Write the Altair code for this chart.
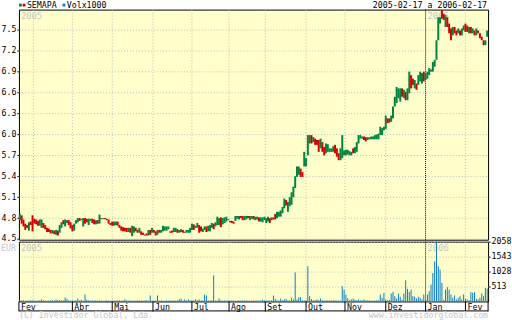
import altair as alt
import pandas as pd

# ---------------- data ----------------
# daily candles 2005-02-17 .. 2006-02-17 (trading-day index), price in EUR
opens = (
    # Feb
    [4.77, 4.84, 4.78, 4.72, 4.70, 4.62, 4.75, 4.84]
    # Mar
    + [4.79, 4.78, 4.76, 4.69, 4.66, 4.73, 4.70, 4.66, 4.65, 4.63, 4.58, 4.62, 4.56, 4.62, 4.59, 4.66, 4.77, 4.68, 4.73, 4.77, 4.74]
    # Abr
    + [4.70, 4.62, 4.72, 4.74, 4.80, 4.77, 4.68, 4.80, 4.79, 4.70, 4.76, 4.79, 4.78, 4.71, 4.77, 4.72, 4.80, 4.785, 4.80, 4.79, 4.78, 4.73]
    # Mai
    + [4.75, 4.69, 4.70, 4.75, 4.70, 4.68, 4.67, 4.66, 4.66, 4.60, 4.66, 4.54, 4.59, 4.66, 4.63, 4.59, 4.61, 4.59, 4.565, 4.58, 4.55, 4.63, 4.59]
    # Jun
    + [4.63, 4.61, 4.56, 4.63, 4.59, 4.61, 4.62, 4.62, 4.64, 4.61, 4.62, 4.60, 4.60, 4.64, 4.59, 4.60, 4.63, 4.605, 4.59, 4.59, 4.59]
    # Jul
    + [4.63, 4.71, 4.66, 4.66, 4.70, 4.68, 4.60, 4.63, 4.68, 4.61, 4.61, 4.66, 4.72, 4.68, 4.70, 4.70, 4.81, 4.71, 4.73, 4.75, 4.77]
    # Ago
    + [4.76, 4.76, 4.75, 4.76, 4.79, 4.78, 4.83, 4.83, 4.77, 4.78, 4.83, 4.77, 4.79, 4.83, 4.77, 4.78, 4.81, 4.75, 4.74, 4.77]
    # Set
    + [4.73, 4.75, 4.80, 4.77, 4.81, 4.86, 4.80, 4.82, 4.82, 4.87, 4.94, 5.06, 4.89, 4.97, 4.99, 5.10, 5.23, 5.39, 5.42, 5.51, 5.46, 5.54]
    # Out
    + [5.54, 5.70, 5.87, 5.99, 5.89, 5.94, 5.92, 5.92, 5.80, 5.89, 5.82, 5.73, 5.75, 5.75, 5.75, 5.75, 5.85, 5.80, 5.73, 5.63, 5.66, 5.70]
    # Nov
    + [5.70, 5.71, 5.70, 5.70, 5.80, 5.73, 5.75, 5.87, 5.94, 5.94, 5.97, 5.96, 5.92, 5.93, 5.93, 5.93, 5.93, 5.93, 5.93, 5.99, 5.99, 6.06]
    # Dez
    + [6.08, 6.23, 6.23, 6.18, 6.23, 6.40, 6.45, 6.52, 6.47, 6.66, 6.52, 6.61, 6.49, 6.59, 6.85, 6.80, 6.66, 6.73, 6.71, 6.76, 6.73, 6.90]
    # Jan
    + [6.78, 6.80, 6.85, 6.90, 6.90, 6.97, 7.07, 7.35, 7.59, 7.78, 7.73, 7.54, 7.68, 7.59, 7.52, 7.42, 7.54, 7.49, 7.45, 7.49, 7.42, 7.49]
    # Fev
    + [7.59, 7.56, 7.45, 7.54, 7.45, 7.49, 7.42, 7.49, 7.45, 7.40, 7.35, 7.28, 7.40]
)
closes = (
    [4.86, 4.72, 4.68, 4.63, 4.66, 4.74, 4.70, 4.61]
    + [4.72, 4.71, 4.69, 4.78, 4.78, 4.66, 4.64, 4.60, 4.60, 4.58, 4.63, 4.57, 4.63, 4.55, 4.70, 4.74, 4.71, 4.78, 4.77, 4.70, 4.65]
    + [4.61, 4.72, 4.77, 4.80, 4.76, 4.79, 4.80, 4.72, 4.74, 4.79, 4.79, 4.73, 4.71, 4.77, 4.72, 4.85, 4.785, 4.80, 4.785, 4.77, 4.72, 4.70]
    + [4.69, 4.75, 4.75, 4.69, 4.66, 4.62, 4.61, 4.61, 4.60, 4.66, 4.59, 4.69, 4.68, 4.61, 4.59, 4.66, 4.56, 4.56, 4.55, 4.55, 4.63, 4.56, 4.66]
    + [4.59, 4.55, 4.63, 4.59, 4.63, 4.69, 4.68, 4.68, 4.68, 4.59, 4.59, 4.66, 4.66, 4.59, 4.63, 4.64, 4.59, 4.59, 4.63, 4.63, 4.66]
    + [4.72, 4.63, 4.69, 4.73, 4.59, 4.61, 4.65, 4.68, 4.60, 4.69, 4.70, 4.73, 4.64, 4.74, 4.82, 4.80, 4.67, 4.80, 4.81, 4.82, 4.785]
    + [4.74, 4.73, 4.72, 4.83, 4.83, 4.83, 4.80, 4.77, 4.83, 4.83, 4.80, 4.83, 4.83, 4.78, 4.82, 4.82, 4.75, 4.81, 4.81, 4.82]
    + [4.80, 4.82, 4.73, 4.81, 4.78, 4.78, 4.89, 4.89, 4.91, 4.96, 5.08, 4.98, 5.03, 5.10, 5.17, 5.25, 5.40, 5.54, 5.54, 5.39, 5.39, 5.75]
    + [5.66, 5.99, 5.99, 5.87, 5.96, 5.85, 5.85, 5.75, 5.94, 5.75, 5.70, 5.87, 5.86, 5.80, 5.80, 5.83, 5.73, 5.68, 5.63, 5.80, 5.99, 5.77]
    + [5.78, 5.78, 5.76, 5.75, 5.73, 5.82, 5.89, 5.99, 5.99, 5.97, 5.92, 5.90, 5.96, 5.96, 5.97, 5.97, 5.99, 6.00, 6.01, 6.11, 6.09, 6.11]
    + [6.27, 6.16, 6.17, 6.27, 6.40, 6.54, 6.68, 6.66, 6.66, 6.54, 6.64, 6.49, 6.66, 6.90, 6.66, 6.71, 6.78, 6.64, 6.85, 6.90, 6.88, 6.76]
    + [6.88, 6.90, 6.95, 6.93, 7.04, 7.07, 7.35, 7.68, 7.68, 7.66, 7.64, 7.71, 7.54, 7.45, 7.35, 7.54, 7.45, 7.42, 7.52, 7.42, 7.52, 7.56]
    + [7.47, 7.47, 7.54, 7.45, 7.52, 7.42, 7.52, 7.45, 7.38, 7.35, 7.28, 7.35, 7.49]
)
# volume in thousands
volumes = (
    [45, 30, 40, 25, 35, 30, 40, 35]
    + [30, 25, 35, 40, 68, 45, 30, 25, 30, 35, 40, 30, 68, 40, 50, 30, 35, 137, 90, 40, 30]
    + [35, 30, 40, 100, 35, 60, 30, 240, 60, 40, 30, 35, 30, 40, 30, 35, 30, 25, 30, 35, 30, 25]
    + [30, 35, 30, 35, 40, 30, 35, 70, 40, 30, 35, 30, 25, 30, 40, 30, 35, 30, 35, 40, 30, 205, 30]
    + [30, 35, 205, 30, 35, 30, 25, 40, 30, 35, 30, 35, 30, 40, 70, 100, 30, 70, 35, 70, 40]
    + [40, 35, 70, 40, 70, 35, 40, 240, 205, 30, 35, 40, 900, 30, 35, 100, 40, 30, 35, 30, 40]
    + [30, 35, 30, 25, 30, 35, 30, 40, 30, 35, 30, 25, 30, 35, 30, 40, 30, 35, 60, 40]
    + [40, 30, 35, 40, 205, 90, 40, 35, 100, 40, 70, 90, 40, 35, 125, 70, 1000, 70, 148, 148, 40, 30]
    + [40, 1210, 182, 80, 40, 40, 70, 40, 100, 40, 30, 40, 30, 35, 30, 40, 35, 30, 35, 30, 525, 410]
    + [240, 110, 40, 70, 100, 60, 40, 70, 40, 40, 70, 40, 35, 40, 30, 35, 30, 40, 35, 240, 125, 296]
    + [70, 40, 60, 274, 330, 182, 100, 274, 160, 60, 274, 730, 433, 330, 410, 182, 160, 100, 160, 125, 70, 240]
    + [40, 240, 353, 581, 980, 1380, 2058, 1210, 1095, 640, 60, 410, 490, 410, 240, 125, 205, 68, 125, 182, 68, 240]
    + [90, 68, 40, 320, 300, 320, 90, 68, 125, 274, 182, 467, 445]
)
N = len(opens)

price_ticks = [4.5, 4.8, 5.1, 5.4, 5.7, 6.0, 6.3, 6.6, 6.9, 7.2, 7.5]
vol_ticks = [513, 1028, 1543, 2058]
# month grid positions (trading-day index), Jan (year change) drawn apart
grid_months = [7.5, 29, 51, 73.5, 95, 115.5, 135.5, 158, 179.5, 202, 246]
year_change = [224]
label_pos = [-0.5, 29, 51, 73.5, 95, 115.5, 135.5, 158, 179.5, 202, 224, 246, 258.5]
label_txt = ["Fev", "Abr", "Mai", "Jun", "Jul", "Ago", "Set", "Out", "Nov", "Dez", "Jan", "Fev", ""]
years = ["2005", "2006"]
year_pos = [-0.5, 224]

GREEN = "#00853e"
RED = "#d40000"
BLUE = "#0a7cc8"
GRID = "#bcbcbc"
WM = "#c6c6c6"
FONT = "DejaVu Sans Mono"
FS = 8.3

df = pd.DataFrame({"idx": list(range(N)), "open": opens, "close": closes, "vol": volumes})
df["dir"] = ["up" if c >= o else "down" for o, c in zip(opens, closes)]
grid_df = pd.DataFrame({"idx": grid_months})
year_df = pd.DataFrame({"idx": year_change})
wm_df = pd.DataFrame({"idx": year_pos, "label": years})
lab_df = pd.DataFrame({"idx": label_pos, "label": label_txt})
one = alt.Data(values=[{}])

xs = alt.Scale(domain=[-0.5, N - 0.5], nice=False, zero=False)
X_noaxis = alt.X("idx:Q", scale=xs, axis=None)


def grid_layer():
    return alt.Chart(grid_df).mark_rule(color=GRID, strokeDash=[1, 2], strokeWidth=1).encode(x=X_noaxis)


def year_layer():
    return alt.Chart(year_df).mark_rule(color="black", strokeDash=[1, 1], strokeWidth=1).encode(x=X_noaxis)


def wm_layer():
    return alt.Chart(wm_df).mark_text(font=FONT, fontSize=FS + 0.5, color=WM, align="left", baseline="top", dx=2).encode(
        x=X_noaxis, y=alt.value(2), text="label:N")


def txt(s, x, y, align="left", color="black", baseline="alphabetic"):
    return alt.Chart(one).mark_text(text=s, font=FONT, fontSize=FS, color=color, align=align, baseline=baseline).encode(
        x=alt.value(x), y=alt.value(y))


def sq(x, y, color):
    return alt.Chart(one).mark_square(size=8, color=color, opacity=1).encode(x=alt.value(x), y=alt.value(y))


candles = alt.Chart(df).mark_rule(strokeWidth=2).encode(
    x=X_noaxis,
    y=alt.Y("open:Q", scale=alt.Scale(domain=[4.49, 7.79], nice=False, zero=False),
            axis=alt.Axis(values=price_ticks, format=".1f", grid=True, gridColor=GRID, gridDash=[1, 2],
                          tickSize=2, labelPadding=1, title=None)),
    y2="close:Q",
    color=alt.Color("dir:N", scale=alt.Scale(domain=["up", "down"], range=[GREEN, RED]), legend=None),
)

price = alt.layer(
    grid_layer(), year_layer(), wm_layer(), candles,
    sq(1.5, -4.5, GREEN), sq(5.2, -4.5, RED), txt("SEMAPA", 8, -1.5),
    sq(45.2, -4.5, BLUE), txt("Volx1000", 48, -1.5),
    txt("2005-02-17 a 2006-02-17", 470, -1.5, align="right"),
).properties(width=471, height=231)

vbars = alt.Chart(df).mark_rule(strokeWidth=1, color=BLUE).encode(
    x=X_noaxis,
    y=alt.Y("vol:Q", scale=alt.Scale(domain=[0, 2058], nice=False, zero=True),
            axis=alt.Axis(orient="right", values=vol_ticks, format="d", grid=True, gridColor=GRID,
                          gridDash=[1, 2], tickSize=2, labelPadding=1, title=None)),
    y2=alt.datum(0),
)

# month strip below the volume panel
strip_ticks = alt.Chart(lab_df).mark_rule(color="black", strokeWidth=1).encode(
    x=X_noaxis, y=alt.value(60), y2=alt.value(70))
strip_labels = alt.Chart(lab_df).mark_text(font=FONT, fontSize=FS, color="black", align="left",
                                           baseline="top", dx=2).encode(
    x=X_noaxis, y=alt.value(61.5), text="label:N")
strip_line = alt.Chart(one).mark_rule(color="black", strokeWidth=1).encode(
    x=alt.value(0), x2=alt.value(471), y=alt.value(69.5))

volume = alt.layer(
    grid_layer(), year_layer(), wm_layer(),
    txt("EUR", -18, 2, color=WM, baseline="top"),
    vbars, strip_ticks, strip_labels, strip_line,
    txt("(C) Investidor Global, Lda.", 0, 77, color=WM),
    txt("www.investidorglobal.com", 471, 77, align="right", color=WM),
).properties(width=471, height=60)

chart = alt.vconcat(price, volume, spacing=2, bounds="flush").properties(
    padding=0, background="white"
).configure_view(
    fill="#ffffcc", stroke="black", strokeWidth=1
).configure_axis(
    labelFont=FONT, labelFontSize=FS, labelColor="black", tickColor="black", domain=False
)

chart.save("out.html", embed_options={"renderer": "svg", "actions": False})
